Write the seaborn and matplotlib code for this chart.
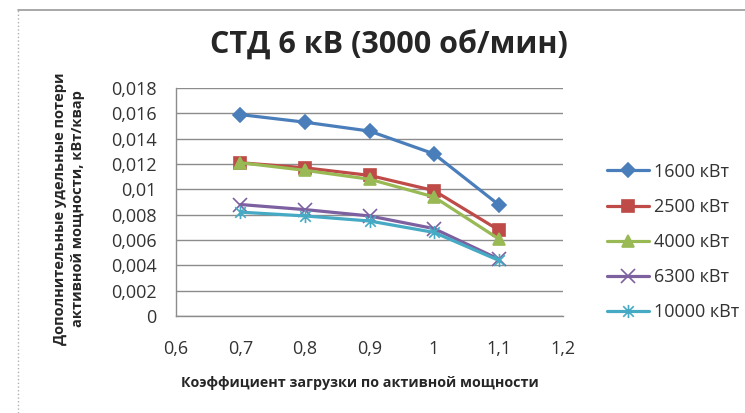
import numpy as np
import pandas as pd
import seaborn as sns
import matplotlib.pyplot as plt
from matplotlib.path import Path
from matplotlib.lines import Line2D
from matplotlib.ticker import MultipleLocator, FuncFormatter

# Данные
k_zagr = [0.7, 0.8, 0.9, 1.0, 1.1]
p_1600 = [0.0159, 0.0153, 0.0146, 0.0128, 0.0088]
p_2500 = [0.0121, 0.0117, 0.0111, 0.0099, 0.0068]
p_4000 = [0.0121, 0.0115, 0.0108, 0.0094, 0.0061]
p_6300 = [0.0088, 0.0084, 0.0079, 0.0069, 0.0045]
p_10000 = [0.0082, 0.0079, 0.0075, 0.0066, 0.0044]
nazvaniya = ["1600 кВт", "2500 кВт", "4000 кВт", "6300 кВт", "10000 кВт"]
serii = [p_1600, p_2500, p_4000, p_6300, p_10000]

tsveta = ["#4a7ebb", "#be4b48", "#98b954", "#7d60a0", "#46aac5"]

# звездочка как в Excel (x + вертикальная черта)
zvezda = Path([(-1, -1), (1, 1), (-1, 1), (1, -1), (0, -1.25), (0, 1.25)],
              [Path.MOVETO, Path.LINETO, Path.MOVETO, Path.LINETO, Path.MOVETO, Path.LINETO])
markery = ["D", "s", "^", "x", zvezda]
razmery = [7.5, 8.5, 9, 9.5, 9.5]

sns.set_style("white")
plt.rcParams["font.family"] = ["Open Sans", "DejaVu Sans"]

fig = plt.figure(figsize=(7.45, 4.13), dpi=100)
ax = fig.add_axes([176 / 745, 1 - 316 / 413, 387 / 745, 228 / 413])

for y, name, c, m, ms in zip(serii, nazvaniya, tsveta, markery, razmery):
    df = pd.DataFrame({"k": k_zagr, "p": y})
    sns.lineplot(data=df, x="k", y="p", ax=ax, color=c, lw=2.3, marker=m,
                 markersize=ms, markeredgecolor=c, markerfacecolor=c,
                 markeredgewidth=1.2, label=name, legend=False)

ax.set_xlim(0.6, 1.2)
ax.set_ylim(0, 0.018)
ax.xaxis.set_major_locator(MultipleLocator(0.1))
ax.yaxis.set_major_locator(MultipleLocator(0.002))
fmt = FuncFormatter(lambda v, pos: f"{round(v, 6):g}".replace(".", ","))
ax.xaxis.set_major_formatter(fmt)
ax.yaxis.set_major_formatter(fmt)

ax.grid(axis="y", color="#8c8c8c", lw=1)
ax.grid(axis="x", visible=False)
for s in ["top", "right"]:
    ax.spines[s].set_visible(False)
for s in ["left", "bottom"]:
    ax.spines[s].set_color("#8c8c8c")
    ax.spines[s].set_linewidth(1)
ax.tick_params(axis="both", direction="out", length=5, width=1, color="#8c8c8c",
               labelsize=13, labelcolor="#333333")
ax.tick_params(axis="x", pad=12)
ax.tick_params(axis="y", pad=9)

ax.set_xlabel("Коэффициент загрузки по активной мощности", fontsize=10.3, fontweight="bold")
ax.xaxis.set_label_coords((360 - 176) / 387, (316 - 383) / 228)
ax.xaxis.label.set_va("center")
ax.set_ylabel("Дополнительные удельные потери\nактивной мощности, кВт/квар",
              fontsize=10.5, fontweight="bold", linespacing=1.45)
ax.yaxis.set_label_coords((69 - 176) / 387, (316 - 209) / 228)
ax.yaxis.label.set_va("center")

fig.suptitle("СТД 6 кВ (3000 об/мин)", x=389 / 745, y=1 - 46 / 413, va="center",
             fontsize=22, fontweight="bold")

handles = ax.get_lines()[:5]
fig.legend(handles=handles, labels=nazvaniya, loc="center left",
           bbox_to_anchor=(607 / 745, 1 - 242 / 413), frameon=False, fontsize=13,
           handlelength=2.3, handletextpad=0.3, labelspacing=0.95,
           borderpad=0, borderaxespad=0, labelcolor="#333333")

# рамка диаграммы
fig.add_artist(Line2D([18 / 745, 1], [1 - 10 / 413] * 2, transform=fig.transFigure,
                      color="#9a9a9a", lw=1.2))
fig.add_artist(Line2D([18 / 745] * 2, [0, 1 - 10 / 413], transform=fig.transFigure,
                      color="#b0b0b0", lw=1, ls=":"))

fig.savefig("out.png", dpi=100)
